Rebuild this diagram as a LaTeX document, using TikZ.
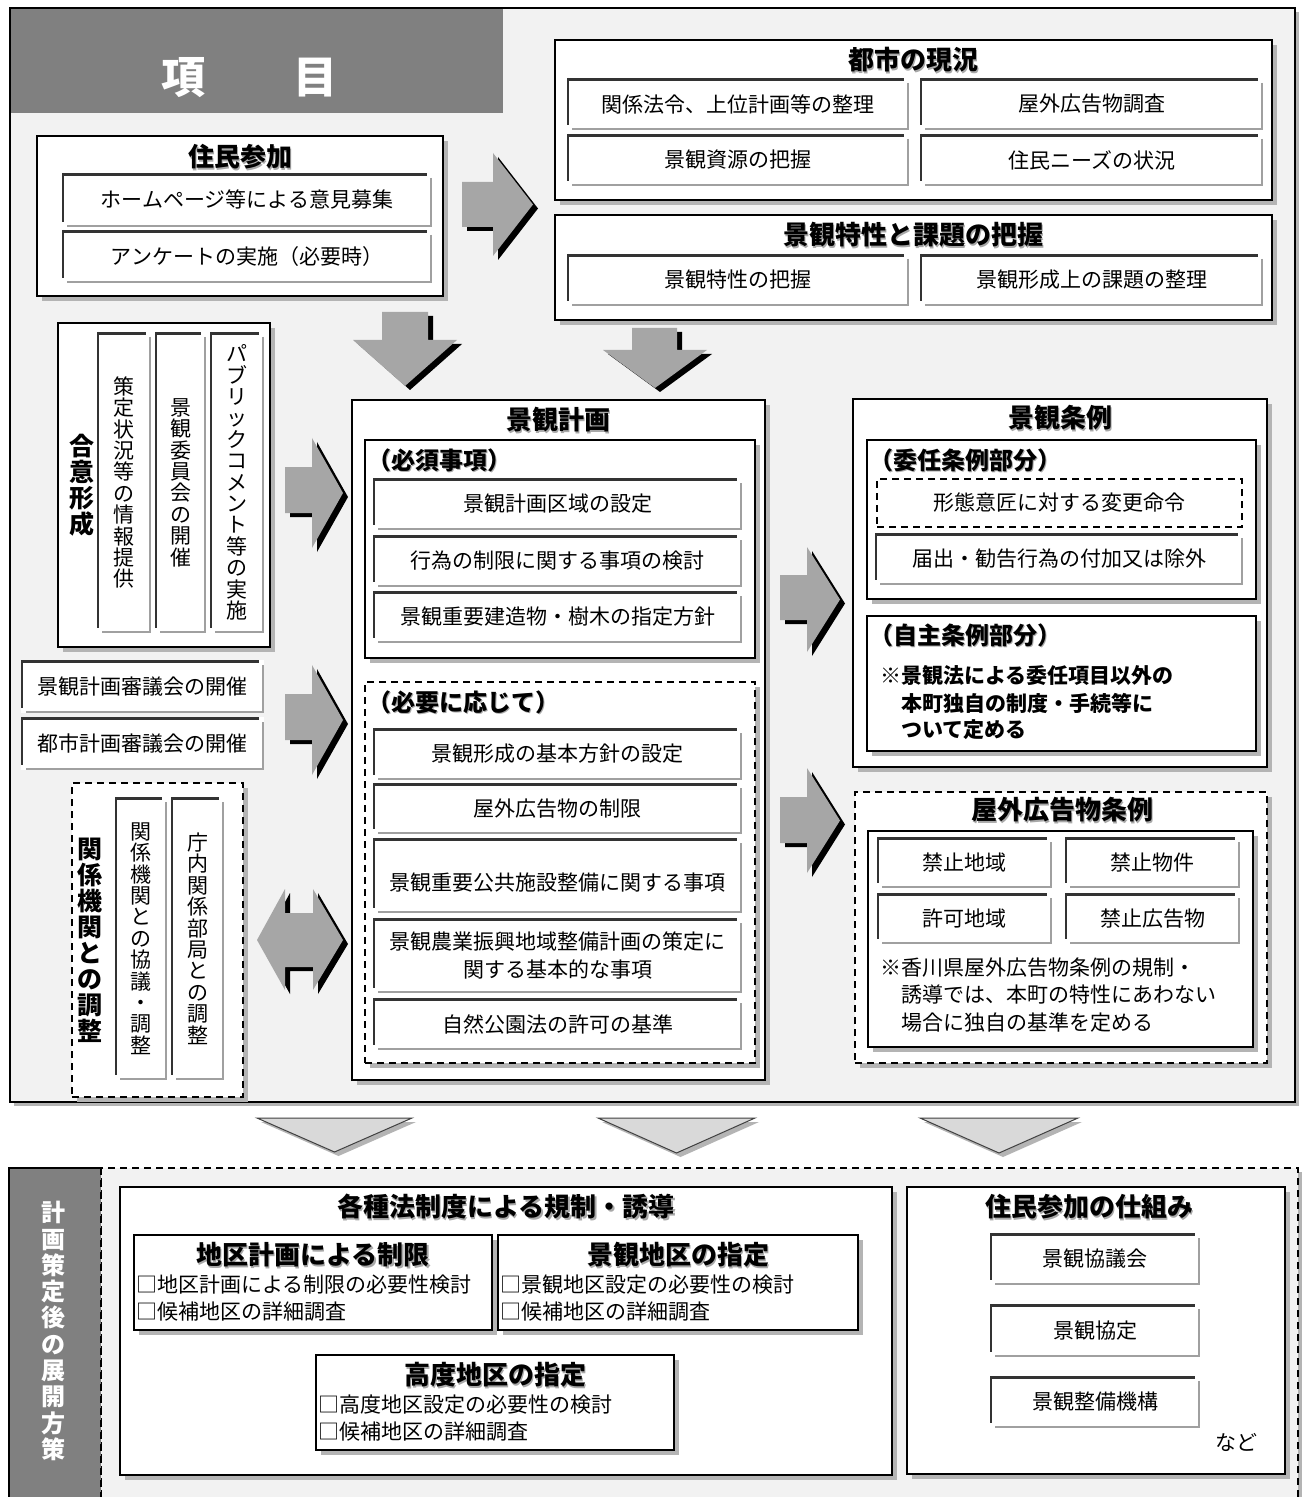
\documentclass[tikz,border=0pt]{standalone}
\usepackage{fontspec}
\setmainfont{Noto Sans CJK JP}
\usetikzlibrary{shadows,calc}

\definecolor{panelbg}{HTML}{F2F2F2}
\definecolor{darkhdr}{HTML}{808080}
\definecolor{arrowgray}{HTML}{A6A6A6}
\definecolor{boxshadow}{HTML}{B4B4B4}
\definecolor{itemdark}{HTML}{333333}
\definecolor{itemgray}{HTML}{A0A0A0}
\definecolor{trifill}{HTML}{D9D9D9}
\definecolor{tridark}{HTML}{404040}
\definecolor{ttlsh}{HTML}{A8A8A8}

\tikzset{
  secbox/.style={fill=white, draw=black, line width=0.65pt, inner sep=0pt,
    drop shadow={shadow xshift=2.5pt, shadow yshift=-2.5pt, fill=boxshadow, opacity=1}},
  dashbox/.style={fill=white, draw=black, line width=0.7pt, dash pattern=on 3.5pt off 2.5pt, inner sep=0pt,
    drop shadow={shadow xshift=2.5pt, shadow yshift=-2.5pt, fill=boxshadow, opacity=1}},
  dashitem/.style={fill=white, draw=black, line width=0.7pt, dash pattern=on 3.5pt off 2.5pt, inner sep=0pt,
    font=\fontsize{10.5}{13.5}\selectfont},
  itembox/.style={fill=white, inner sep=0pt, align=center,
    font=\fontsize{10.5}{13.5}\selectfont,
    path picture={
      \draw[itemdark, line width=1.3pt] ([yshift=-0.65pt]path picture bounding box.north west) -- ([xshift=-2.5pt,yshift=-0.65pt]path picture bounding box.north east);
      \draw[itemdark, line width=1pt] ([xshift=0.5pt]path picture bounding box.north west) -- ([xshift=0.5pt,yshift=2.5pt]path picture bounding box.south west);
      \draw[itemgray, line width=1.2pt] ([xshift=-0.6pt,yshift=-2.5pt]path picture bounding box.north east) -- ([xshift=-0.6pt]path picture bounding box.south east);
      \draw[itemgray, line width=1.2pt] ([xshift=2.5pt,yshift=0.6pt]path picture bounding box.south west) -- ([yshift=0.6pt]path picture bounding box.south east);
    }},
  vitem/.style={align=center, font=\fontsize{10.5}{10.7}\selectfont},
  ttlf/.style={inner sep=0pt, font=\fontsize{13}{15}\selectfont\bfseries},
  subf/.style={font=\fontsize{12}{14}\selectfont\bfseries},
  vttl/.style={inner sep=0pt, align=center, font=\fontsize{12.5}{13}\selectfont\bfseries},
  itemtxt/.style={inner sep=0pt, font=\fontsize{10.5}{13.5}\selectfont},
  notef/.style={inner sep=0pt, anchor=west, font=\fontsize{10.5}{13}\selectfont},
  notebf/.style={inner sep=0pt, anchor=west, font=\fontsize{10.5}{13}\selectfont\bfseries},
  hdr/.style={inner sep=0pt, text=white, font=\fontsize{22}{24}\selectfont\bfseries},
}

\newcommand\mybx[7][]{%
  \node[#1, minimum width={(#5-#3)*0.5pt}, minimum height={(#6-#4)*0.5pt}] (#2) at ({(#3+#5)/2},{(#4+#6)/2}) {#7};}
\newcommand\ttl[5][]{%
  \node[ttlf,#1,text=ttlsh] (#2s) at ({#3+1.5},{#4+1.5}) {#5};
  \node[ttlf,#1] (#2) at (#3,#4) {#5};}
\newcommand\rarr[7]{%
  \begin{scope}[shift={(5,4)}]
    \fill[black] (#1,#2) -- (#4,#2) -- (#4,#5) -- (#7,{(#5+#6)/2}) -- (#4,#6) -- (#4,#3) -- (#1,#3) -- cycle;
  \end{scope}
  \fill[arrowgray] (#1,#2) -- (#4,#2) -- (#4,#5) -- (#7,{(#5+#6)/2}) -- (#4,#6) -- (#4,#3) -- (#1,#3) -- cycle;}
\newcommand\darr[7]{%
  \begin{scope}[shift={(5,4)}]
    \fill[black] (#1,#3) -- (#2,#3) -- (#2,#4) -- (#6,#4) -- ({(#5+#6)/2},#7) -- (#5,#4) -- (#1,#4) -- cycle;
  \end{scope}
  \fill[arrowgray] (#1,#3) -- (#2,#3) -- (#2,#4) -- (#6,#4) -- ({(#5+#6)/2},#7) -- (#5,#4) -- (#1,#4) -- cycle;}
\newcommand\tri[4]{%
  \fill[boxshadow] ({#1+4},{#3+4}) -- ({#2+4},{#3+4}) -- ({(#1+#2)/2+4},{#4+4}) -- cycle;
  \filldraw[fill=trifill, draw=tridark, line width=0.5pt] (#1,#3) -- (#2,#3) -- ({(#1+#2)/2},#4) -- cycle;}

\begin{document}
\begin{tikzpicture}[x=0.5pt,y=-0.5pt]
\useasboundingbox (0,0) rectangle (1306,1497);
\fill[white] (0,0) rectangle (1306,1497);

% ---------- top panel ----------
\fill[boxshadow] (14,12) rectangle (1299,1106);
\fill[panelbg] (10,8) rectangle (1295,1102);
\fill[darkhdr] (10,8) rectangle (503,113);
\draw[line width=0.8pt] (10,8) rectangle (1295,1102);
\node[hdr] (hdr) at (249,78) {項　　目};

% 住民参加
\mybx[secbox]{jumin}{37}{136}{443}{296}{}
\ttl{juminT}{240}{157}{住民参加}
\mybx[itembox]{j1}{62}{173}{432}{227}{ホームページ等による意見募集}
\mybx[itembox]{j2}{62}{230}{432}{283}{アンケートの実施（必要時）}

% 都市の現況
\mybx[secbox]{toshi}{555}{40}{1272}{200}{}
\ttl{toshiT}{913}{60}{都市の現況}
\mybx[itembox]{t1}{567}{78}{909}{130}{関係法令、上位計画等の整理}
\mybx[itembox]{t2}{920}{78}{1263}{130}{屋外広告物調査}
\mybx[itembox]{t3}{567}{134}{909}{186}{景観資源の把握}
\mybx[itembox]{t4}{920}{134}{1263}{186}{住民ニーズの状況}

% 景観特性と課題の把握
\mybx[secbox]{tokusei}{555}{215}{1272}{320}{}
\ttl{tokuseiT}{913}{235}{景観特性と課題の把握}
\mybx[itembox]{k1}{567}{254}{909}{306}{景観特性の把握}
\mybx[itembox]{k2}{920}{254}{1263}{306}{景観形成上の課題の整理}

% 合意形成
\mybx[secbox]{goi}{58}{323}{270}{647}{}
\node[vttl] (goiT) at (82,485) {合\\意\\形\\成};
\mybx[itembox,vitem]{g1}{97}{332}{151}{633}{策\\定\\状\\況\\等\\の\\情\\報\\提\\供}
\mybx[itembox,vitem]{g2}{155}{332}{206}{633}{景\\観\\委\\員\\会\\の\\開\\催}
\mybx[itembox,vitem]{g3}{210}{332}{264}{633}{パ\\ブ\\リ\\ッ\\ク\\コ\\メ\\ン\\ト\\等\\の\\実\\施}

% 審議会
\mybx[itembox]{s1}{21}{660}{264}{713}{景観計画審議会の開催}
\mybx[itembox]{s2}{21}{717}{264}{770}{都市計画審議会の開催}

% 関係機関との調整
\mybx[dashbox]{kankei}{72}{783}{243}{1097}{}
\node[vttl] (kankeiT) at (90,940) {関\\係\\機\\関\\と\\の\\調\\整};
\mybx[itembox,vitem]{r1}{115}{797}{167}{1080}{関\\係\\機\\関\\と\\の\\協\\議\\・\\調\\整}
\mybx[itembox,vitem]{r2}{171}{797}{224}{1080}{庁\\内\\関\\係\\部\\局\\と\\の\\調\\整}

% 景観計画
\mybx[secbox]{keikaku}{352}{400}{765}{1080}{}
\ttl{keikakuT}{558}{420}{景観計画}
\mybx[secbox]{hissu}{365}{440}{755}{658}{}
\ttl[anchor=west,subf]{hissuT}{367}{460}{（必須事項）}
\mybx[itembox]{h1}{373}{478}{742}{530}{景観計画区域の設定}
\mybx[itembox]{h2}{373}{535}{742}{587}{行為の制限に関する事項の検討}
\mybx[itembox]{h3}{373}{591}{742}{643}{景観重要建造物・樹木の指定方針}
\mybx[dashbox]{hitsuyo}{365}{682}{755}{1063}{}
\ttl[anchor=west,subf]{hitsuyoT}{367}{702}{（必要に応じて）}
\mybx[itembox]{n1}{373}{728}{742}{780}{景観形成の基本方針の設定}
\mybx[itembox]{n2}{373}{783}{742}{834}{屋外広告物の制限}
\mybx[itembox]{n3}{373}{838}{742}{913}{}
\node[itemtxt] (n3t) at (557,883) {景観重要公共施設整備に関する事項};
\mybx[itembox]{n4}{373}{918}{742}{993}{景観農業振興地域整備計画の策定に\\関する基本的な事項}
\mybx[itembox]{n5}{373}{998}{742}{1050}{自然公園法の許可の基準}

% 景観条例
\mybx[secbox]{jorei}{853}{399}{1267}{767}{}
\ttl{joreiT}{1060}{418}{景観条例}
\mybx[secbox]{inin}{867}{440}{1256}{599}{}
\ttl[anchor=west,subf]{ininT}{869}{460}{（委任条例部分）}
\mybx[dashitem]{ii1}{877}{479}{1242}{527}{形態意匠に対する変更命令}
\mybx[itembox]{ii2}{875}{533}{1243}{585}{届出・勧告行為の付加又は除外}
\mybx[secbox]{jishu}{867}{616}{1256}{751}{}
\ttl[anchor=west,subf]{jishuT}{869}{635}{（自主条例部分）}
\node[notebf] (js1) at (880,675) {※景観法による委任項目以外の};
\node[notebf] (js2) at (880,703) {　本町独自の制度・手続等に};
\node[notebf] (js3) at (880,730) {　ついて定める};

% 屋外広告物条例
\mybx[dashbox]{okugai}{855}{792}{1267}{1063}{}
\ttl{okugaiT}{1062}{810}{屋外広告物条例}
\mybx[secbox]{okin}{868}{831}{1253}{1047}{}
\mybx[itembox]{o1}{877}{837}{1052}{888}{禁止地域}
\mybx[itembox]{o2}{1065}{837}{1240}{888}{禁止物件}
\mybx[itembox]{o3}{877}{893}{1052}{944}{許可地域}
\mybx[itembox]{o4}{1065}{893}{1240}{944}{禁止広告物}
\node[notef] (on1) at (880,968) {※香川県屋外広告物条例の規制・};
\node[notef] (on2) at (880,995) {　誘導では、本町の特性にあわない};
\node[notef] (on3) at (880,1023) {　場合に独自の基準を定める};

% ---------- block arrows ----------
\rarr{462}{182}{227}{493}{153}{256}{533}
\rarr{285}{467}{513}{312}{438}{548}{343}
\rarr{285}{694}{740}{312}{665}{775}{343}
\rarr{780}{575}{620}{807}{547}{652}{840}
\rarr{780}{797}{843}{807}{768}{873}{840}
\darr{382}{428}{312}{340}{353}{457}{386}
\darr{632}{677}{328}{350}{603}{707}{388}
% double arrow
\begin{scope}[shift={(5,4)}]
\fill[black] (257,940) -- (285,889) -- (285,913) -- (313,913) -- (313,889) -- (343,940) -- (313,990) -- (313,967) -- (285,967) -- (285,990) -- cycle;
\end{scope}
\fill[arrowgray] (257,940) -- (285,889) -- (285,913) -- (313,913) -- (313,889) -- (343,940) -- (313,990) -- (313,967) -- (285,967) -- (285,990) -- cycle;

% ---------- triangles ----------
\tri{257}{412}{1118}{1152}
\tri{598}{755}{1118}{1153}
\tri{920}{1078}{1118}{1153}

% ---------- bottom section ----------
\fill[boxshadow] (1298,1172) rectangle (1302,1497);
\fill[panelbg] (101,1168) rectangle (1298,1497);
\draw[line width=0.7pt, dash pattern=on 3.5pt off 2.5pt] (101,1497) -- (101,1168) -- (1298,1168) -- (1298,1497);
\fill[darkhdr] (9,1168) rectangle (101,1497);
\draw[line width=0.8pt] (9,1497) -- (9,1168) -- (101,1168);
\draw[line width=0.7pt, dash pattern=on 3.5pt off 2.5pt] (101,1168) -- (101,1497);
\node[vttl, text=white, font=\fontsize{12}{13.15}\selectfont\bfseries] (sideT) at (53,1331) {計\\画\\策\\定\\後\\の\\展\\開\\方\\策};

\mybx[secbox]{hosei}{120}{1187}{892}{1475}{}
\ttl{hoseiT}{506}{1207}{各種法制度による規制・誘導}
\mybx[secbox]{chiku}{134}{1235}{492}{1330}{}
\ttl{chikuT}{313}{1255}{地区計画による制限}
\node[notef] (c1) at (136,1285) {□地区計画による制限の必要性検討};
\node[notef] (c2) at (136,1312) {□候補地区の詳細調査};
\mybx[secbox]{keichi}{498}{1235}{858}{1330}{}
\ttl{keichiT}{678}{1255}{景観地区の指定}
\node[notef] (kc1) at (500,1285) {□景観地区設定の必要性の検討};
\node[notef] (kc2) at (500,1312) {□候補地区の詳細調査};
\mybx[secbox]{kodo}{316}{1355}{674}{1450}{}
\ttl{kodoT}{495}{1375}{高度地区の指定}
\node[notef] (kd1) at (318,1405) {□高度地区設定の必要性の検討};
\node[notef] (kd2) at (318,1432) {□候補地区の詳細調査};

\mybx[secbox]{shikumi}{907}{1187}{1285}{1474}{}
\ttl{shikumiT}{1089}{1207}{住民参加の仕組み}
\mybx[itembox]{m1}{990}{1233}{1200}{1285}{景観協議会}
\mybx[itembox]{m2}{990}{1304}{1200}{1357}{景観協定}
\mybx[itembox]{m3}{990}{1376}{1200}{1428}{景観整備機構}
\node[inner sep=0pt, font=\fontsize{10.5}{13}\selectfont] (nado) at (1236,1442) {など};
\end{tikzpicture}
\end{document}
